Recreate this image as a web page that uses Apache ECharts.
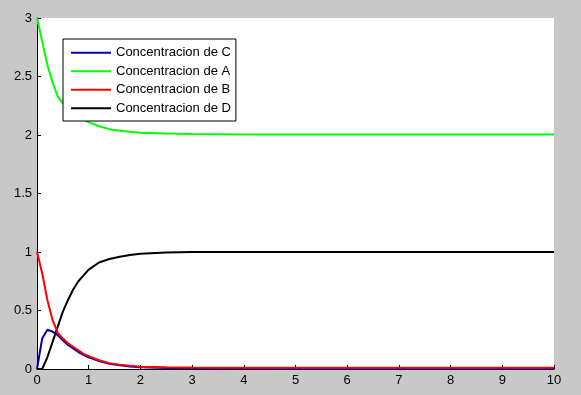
<!DOCTYPE html>
<html>
<head>
<meta charset="utf-8">
<script src="https://cdn.jsdelivr.net/npm/echarts@6/dist/echarts.min.js"></script>
<style>
html,body{margin:0;padding:0;background:#c8c8c8;}
#c{width:581px;height:395px;}
</style>
</head>
<body>
<div id="c"></div>
<script>
var times = [0, 0.1, 0.2, 0.3, 0.4, 0.5, 0.6, 0.7, 0.8, 0.9, 1.0, 1.2, 1.4, 1.6, 1.8, 2.0, 2.5, 3, 4, 5, 6, 7, 8, 9, 10];
var concC = [0, 0.26, 0.335, 0.32, 0.29, 0.245, 0.205, 0.175, 0.145, 0.12, 0.1, 0.068, 0.045, 0.032, 0.022, 0.015, 0.009, 0.006, 0.004, 0.003, 0.003, 0.003, 0.003, 0.003, 0.003];
var concA = [3.0, 2.80, 2.60, 2.45, 2.33, 2.27, 2.22, 2.19, 2.155, 2.13, 2.11, 2.075, 2.05, 2.037, 2.027, 2.02, 2.012, 2.008, 2.005, 2.004, 2.004, 2.004, 2.004, 2.004, 2.004];
var concB = [1.0, 0.82, 0.59, 0.42, 0.31, 0.26, 0.22, 0.19, 0.16, 0.13, 0.11, 0.075, 0.05, 0.037, 0.027, 0.02, 0.014, 0.012, 0.011, 0.011, 0.011, 0.011, 0.011, 0.011, 0.011];
var concD = [0, 0, 0.10, 0.23, 0.36, 0.49, 0.59, 0.68, 0.75, 0.80, 0.85, 0.91, 0.94, 0.96, 0.975, 0.985, 0.995, 1.0, 1.0, 1.0, 1.0, 1.0, 1.0, 1.0, 1.0];
var names = ['Concentracion de C', 'Concentracion de A', 'Concentracion de B', 'Concentracion de D'];
var colors = ['#0000b4', '#00ff00', '#ff0000', '#000000'];

function pairs(v){ return times.map(function(t,i){ return [t, v[i]]; }); }
var seriesData = [concC, concA, concB, concD];

var chart = echarts.init(document.getElementById('c'), null, {renderer:'canvas'});
var font = 'Arial, "Liberation Sans", sans-serif';
chart.setOption({
  backgroundColor: '#c8c8c8',
  animation: false,
  grid: {left: 37, top: 18, right: 27, bottom: 26, show: true, backgroundColor: '#ffffff', borderWidth: 0},
  xAxis: {
    type: 'value', min: 0, max: 10, interval: 1,
    axisLine: {show: true, onZero: false, lineStyle: {color: '#000', width: 1}},
    axisTick: {show: true, inside: true, length: 4, lineStyle: {color: '#000'}},
    axisLabel: {color: '#000', fontSize: 13, fontFamily: font, margin: 5},
    splitLine: {show: false}
  },
  yAxis: {
    type: 'value', min: 0, max: 3, interval: 0.5,
    axisLine: {show: true, onZero: false, lineStyle: {color: '#000', width: 1}},
    axisTick: {show: true, inside: true, length: 4, lineStyle: {color: '#000'}},
    axisLabel: {color: '#000', fontSize: 13, fontFamily: font, margin: 5},
    splitLine: {show: false}
  },
  legend: {
    orient: 'vertical', left: 63, top: 39,
    backgroundColor: '#ffffff', borderColor: '#000', borderWidth: 1, borderRadius: 0,
    padding: [6, 5, 5, 8],
    itemWidth: 40, itemHeight: 2, itemGap: 3,
    icon: 'rect',
    textStyle: {color: '#000', fontSize: 13, fontFamily: font, lineHeight: 15.5},
    data: names
  },
  series: seriesData.map(function(v, i){
    return {
      name: names[i], type: 'line', data: pairs(v), showSymbol: false,
      smooth: false, color: colors[i],
      lineStyle: {color: colors[i], width: i === 3 ? 2 : 2},
      z: i === 2 ? 4 : 3
    };
  })
});
</script>
</body>
</html>
